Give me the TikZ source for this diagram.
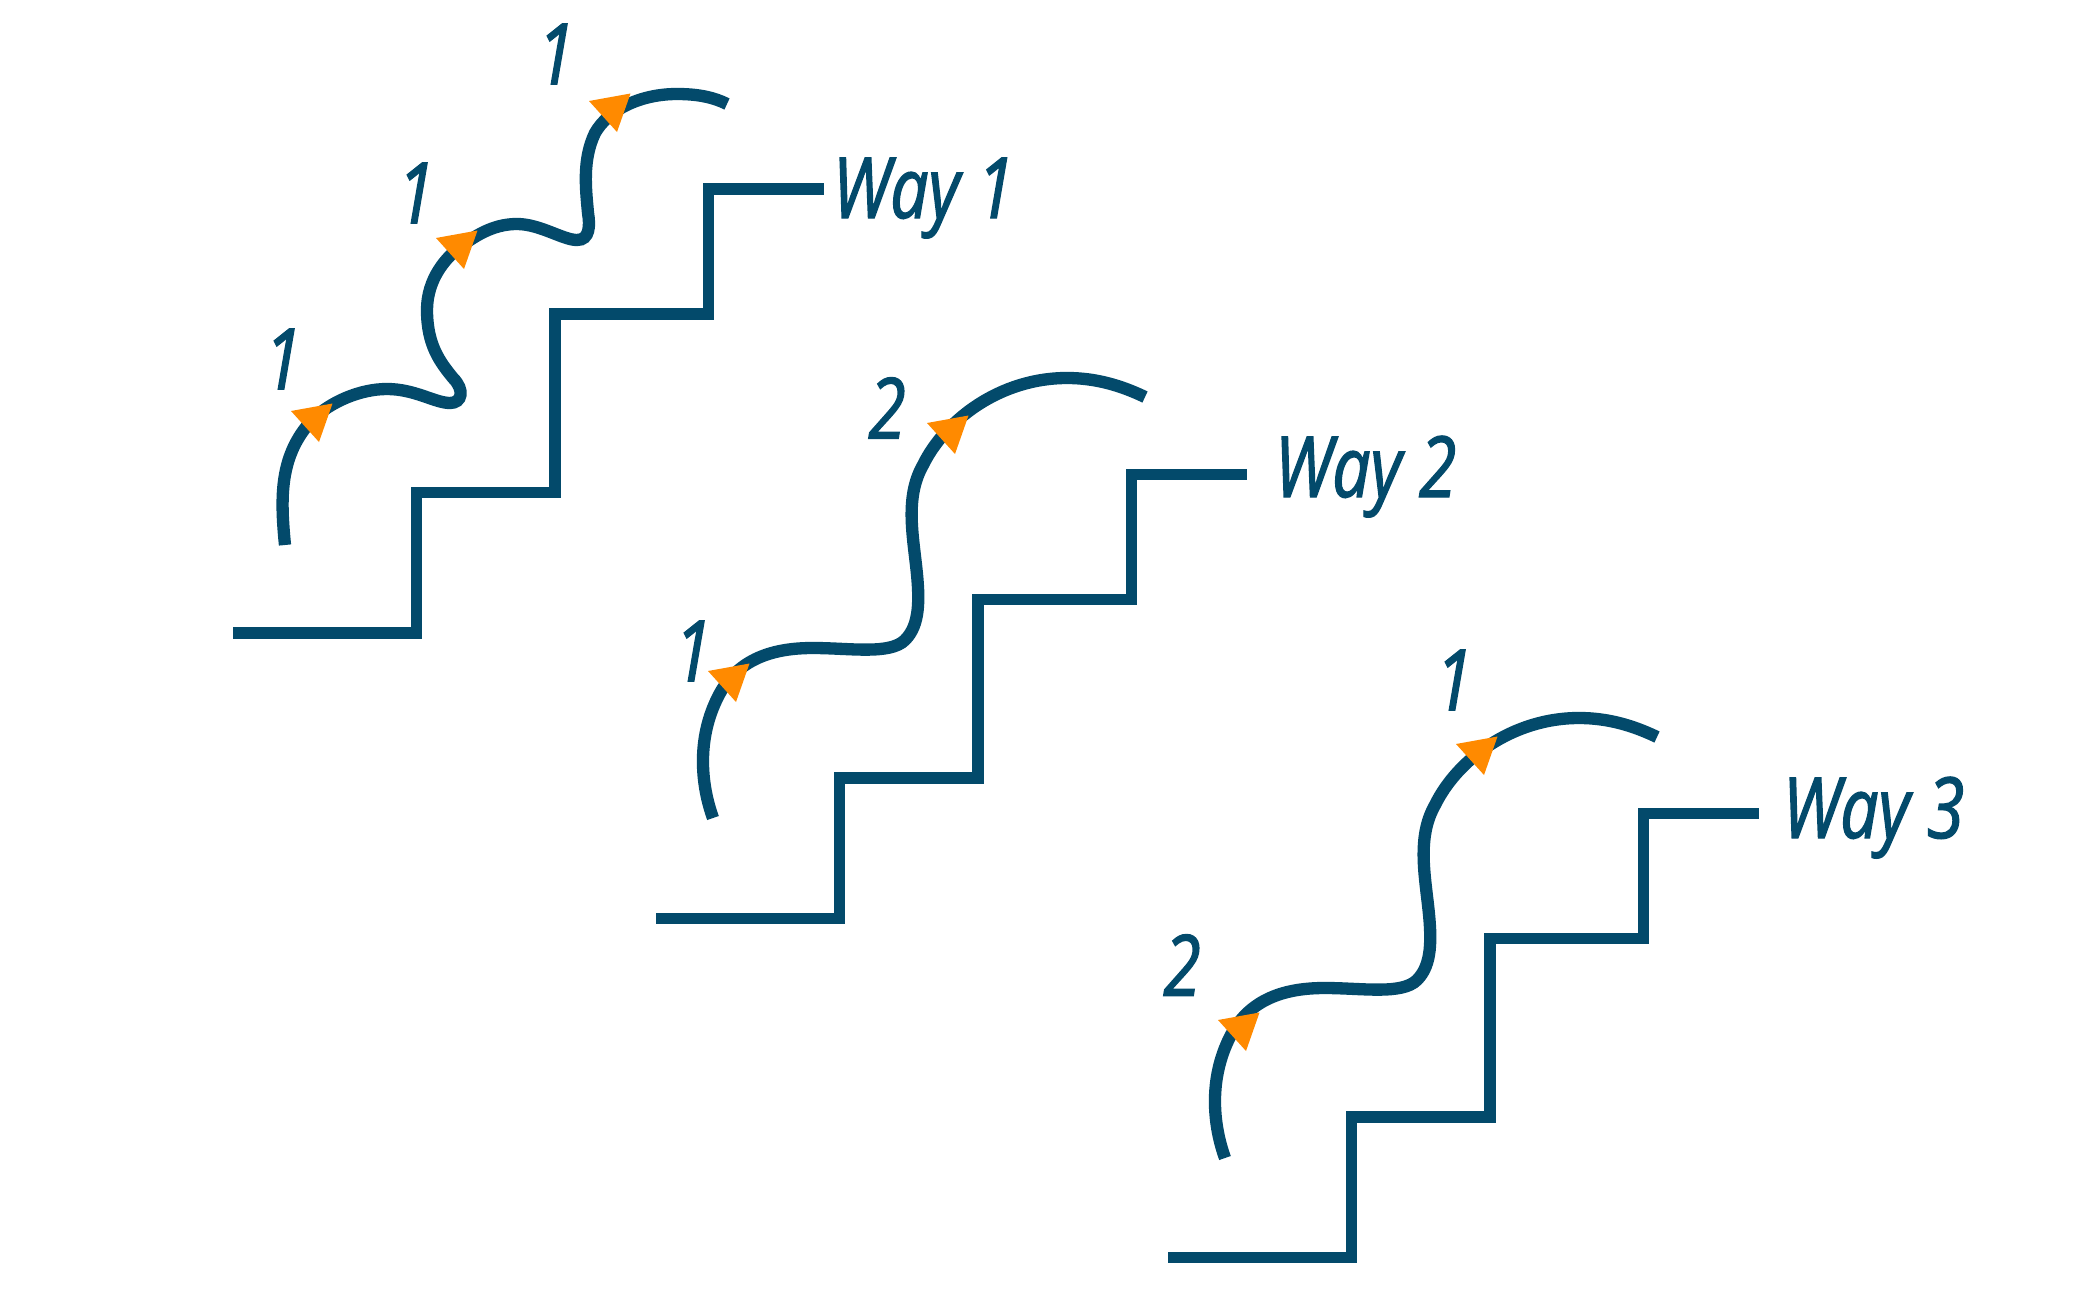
\documentclass[tikz,border=0pt]{standalone}
\usepackage{fontspec}
\newfontfamily\handfont[FakeStretch=0.8, FakeBold=1.6]{Open Sans}
\definecolor{stairblue}{HTML}{034A6B}
\definecolor{tiporange}{HTML}{FF8A00}
\tikzset{
  stairs/.style={draw=stairblue, line width=3.2pt},
  climb/.style={draw=stairblue, line width=3.5pt},
  stepnum/.style={text=stairblue, inner sep=0pt, font=\handfont\itshape\fontsize{24}{28}\selectfont},
  waylabel/.style={stepnum, anchor=base west},
  steptip/.pic={\fill[tiporange] (0,0) -- (41.5,-7.5) -- (28,31) -- cycle;}
}
\begin{document}
\begin{tikzpicture}[x=0.01cm, y=-0.01cm]
\useasboundingbox (0,0) rectangle (2100,1306);
% way 1
\draw[stairs] (233,633) -- (416.6,633) -- (416.6,492.5) -- (555,492.5) -- (555,314) -- (708.6,314) -- (708.6,189) -- (824,189);
\draw[climb] (285,545) .. controls (280,495) and (280,455) .. (312,420)
  .. controls (330,402) and (360,389) .. (387,389)
  .. controls (415,389) and (435,403) .. (450,403)
  .. controls (462,403) and (465,390) .. (453,378)
  .. controls (440,362) and (427,345) .. (427,310)
  .. controls (427,280) and (445,255) .. (470,240)
  .. controls (485,230) and (500,224) .. (517,224)
  .. controls (540,224) and (563,240) .. (577,240)
  .. controls (590,240) and (590,225) .. (588,213)
  .. controls (586,190) and (582,160) .. (595,133)
  .. controls (608,110) and (640,94) .. (677,94)
  .. controls (700,94) and (715,98) .. (727,104);
\pic at (291,411) {steptip};
\pic at (436,238) {steptip};
\pic at (589,101) {steptip};
\node[stepnum] (a1) at (283,359) {1};
\node[stepnum] (a2) at (416,193) {1};
\node[stepnum] (a3) at (556,54) {1};
\node[waylabel] (way1) at (832,218) {Way 1};
% way 2
\draw[stairs] (656,918.5) -- (839.6,918.5) -- (839.6,778) -- (978,778) -- (978,599.5) -- (1131.6,599.5) -- (1131.6,474.5) -- (1247,474.5);
\draw[climb] (713,818) .. controls (700,782) and (697,735) .. (720,693)
  .. controls (741,655) and (780,648) .. (813,648)
  .. controls (850,648) and (890,655) .. (905,640)
  .. controls (920,625) and (920,600) .. (916,565)
  .. controls (912,530) and (906,495) .. (923,465)
  .. controls (945,420) and (1000,378) .. (1067,378)
  .. controls (1095,378) and (1120,385) .. (1145,397);
\pic at (708,671) {steptip};
\pic at (927,423) {steptip};
\node[stepnum] (b1) at (693,651) {1};
\node[stepnum] (b2) at (887,408) {2};
\node[waylabel] (way2) at (1274,497) {Way 2};
% way 3
\draw[stairs] (1168,1257.5) -- (1351.6,1257.5) -- (1351.6,1117) -- (1490,1117) -- (1490,938.5) -- (1643.6,938.5) -- (1643.6,813.5) -- (1759,813.5);
\draw[climb] (1225,1158) .. controls (1212,1122) and (1209,1075) .. (1232,1033)
  .. controls (1253,995) and (1292,988) .. (1325,988)
  .. controls (1362,988) and (1402,995) .. (1417,980)
  .. controls (1432,965) and (1432,940) .. (1428,905)
  .. controls (1424,870) and (1418,835) .. (1435,805)
  .. controls (1457,760) and (1512,718) .. (1579,718)
  .. controls (1607,718) and (1632,725) .. (1657,737);
\pic at (1218,1020) {steptip};
\pic at (1456,744) {steptip};
\node[stepnum] (c1) at (1182,965) {2};
\node[stepnum] (c2) at (1454,680) {1};
\node[waylabel] (way3) at (1782,838) {Way 3};
\end{tikzpicture}
\end{document}
